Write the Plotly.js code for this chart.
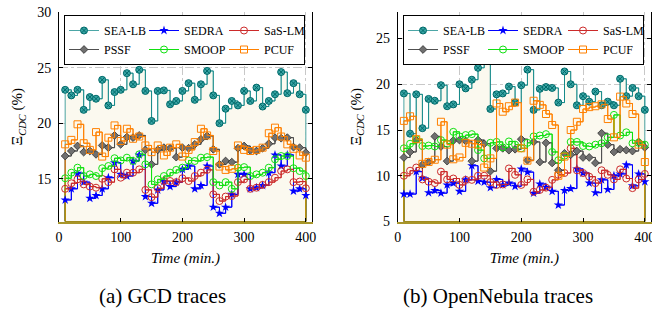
<!DOCTYPE html>
<html><head><meta charset="utf-8">
<script src="https://cdn.plot.ly/plotly-3.0.1.min.js"></script>
<style>html,body{margin:0;padding:0;background:#fff}#chart{width:652px;height:310px}</style>
</head><body><div id="chart"></div><script>
const time = [10,20,30,40,50,60,70,80,90,100,110,120,130,140,150,160,170,180,190,200,210,220,230,240,250,260,270,280,290,300,310,320,330,340,350,360,370,380,390,400];
const seriesNames = ['SEA-LB','SEDRA','SaS-LM','PSSF','SMOOP','PCUF'];

// (a) GCD traces
const gcdSeaLb = [23.0,22.5,23.0,21.2,22.35,22.2,23.9,21.6,22.8,23.0,24.5,23.5,24.8,22.9,20.2,22.9,22.95,21.7,22.0,22.9,23.6,22.1,23.5,24.7,22.5,20.0,21.3,22.0,21.6,22.9,22.0,23.2,21.5,22.0,22.6,24.6,22.7,23.6,22.6,21.2];
const gcdSedra = [13.1,14.1,15.5,14.7,13.25,13.5,14.1,15.1,16.45,15.4,15.25,16.6,17.15,13.4,12.8,14.0,14.75,14.3,14.7,15.85,16.15,14.1,14.4,16.15,12.45,11.9,12.45,13.6,15.4,15.4,14.1,14.2,14.4,15.55,17.15,16.15,17.15,13.9,14.1,13.5];
const gcdSasLm = [14.1,14.6,14.95,14.5,14.3,14.2,15.0,14.7,15.85,15.1,15.55,15.55,15.85,14.0,13.35,14.15,14.8,14.8,14.7,15.05,14.8,15.25,15.55,15.8,13.6,13.0,13.4,13.45,14.7,14.95,14.1,14.2,14.45,14.7,15.1,15.7,15.85,14.7,14.75,14.15];
const gcdPssf = [17.05,17.5,17.95,17.4,17.5,17.2,18.0,17.8,18.9,18.1,18.75,18.7,18.9,17.6,16.3,17.6,17.8,17.75,16.95,17.8,17.75,18.1,18.55,18.85,17.65,16.3,16.6,16.5,17.75,17.95,17.55,17.5,17.75,18.15,18.7,18.65,18.7,17.85,17.8,17.35];
const gcdSmoop = [15.05,15.55,16.0,15.25,15.4,15.25,15.95,16.15,16.85,16.65,16.9,16.6,17.2,16.3,14.5,14.95,15.25,15.55,15.8,16.0,16.65,16.6,16.9,16.95,14.7,14.4,14.7,14.1,16.0,16.05,15.25,15.4,15.55,16.0,16.75,17.05,17.05,15.95,15.7,15.25];
const gcdPcuf = [18.1,18.5,19.9,18.2,17.6,19.2,17.0,18.7,19.8,18.4,19.5,18.6,18.8,18.0,17.4,18.0,17.1,17.8,18.1,17.0,17.6,18.3,19.5,18.9,17.5,16.1,15.8,15.9,18.0,17.6,17.5,17.6,17.8,19.1,19.6,18.8,18.1,17.7,17.1,16.9];

// (b) OpenNebula traces
const oneSeaLb = [19.0,14.6,18.9,15.2,18.4,18.2,19.9,17.6,17.8,20.0,19.55,20.5,21.8,22.9,17.3,18.9,19.0,19.75,18.0,19.9,21.6,17.2,19.5,19.7,19.6,18.0,21.4,20.0,17.7,18.7,18.1,19.2,17.7,18.1,17.7,20.6,18.7,19.6,18.7,17.2];
const oneSedra = [8.0,8.0,10.45,9.75,8.15,8.4,8.1,9.0,9.2,8.3,9.55,11.1,9.4,9.3,8.7,9.6,9.0,9.2,8.85,10.75,10.4,8.1,9.1,8.75,8.3,6.8,8.4,8.6,10.75,10.3,9.2,8.15,9.55,8.5,10.0,10.2,11.2,8.9,10.2,9.35];
const oneSasLm = [10.0,10.55,10.9,9.6,9.35,9.2,10.45,9.6,9.7,9.0,9.55,9.55,10.0,10.0,9.3,9.0,9.05,10.8,10.1,9.0,9.6,8.25,8.45,8.7,9.55,10.1,10.3,13.0,10.6,10.3,9.9,9.2,10.6,10.1,9.6,10.7,9.7,8.65,9.6,10.2];
const onePssf = [12.0,12.6,13.9,11.2,11.5,14.3,13.2,11.6,13.85,13.9,13.8,11.6,13.9,13.5,10.5,13.0,13.0,12.8,12.9,14.0,11.7,13.7,11.5,13.6,11.4,10.6,12.45,12.3,12.7,12.0,12.0,11.4,14.65,13.4,12.6,12.9,12.8,12.7,13.7,13.1];
const oneSmoop = [13.0,13.5,14.0,13.25,13.3,13.2,13.9,13.5,14.8,14.3,14.45,14.55,12.8,11.9,13.6,13.7,13.1,13.75,13.4,13.0,13.6,14.3,14.4,14.55,12.6,11.7,12.2,13.7,13.7,13.25,13.2,13.4,13.55,14.2,16.65,14.4,14.75,13.55,13.6,13.4];
const onePcuf = [16.0,16.5,14.0,11.3,11.5,11.75,15.9,13.4,11.8,12.0,13.6,13.5,13.4,10.9,11.9,17.9,17.0,17.6,18.0,13.0,11.65,18.2,17.75,16.75,15.55,10.0,12.1,15.0,15.9,17.3,17.5,17.6,17.8,16.2,14.2,18.65,17.9,16.75,13.4,11.5];

const xTicks = [0,100,200,300,400];
const yTicksA = [15,20,25,30];
const yTicksB = [5,10,15,20,25];
const captions = ['(a) GCD traces','(b) OpenNebula traces'];

const styles = [
  {line:'rgba(0,128,128,0.7)', marker:{symbol:'circle-x', size:7, color:'#3aa5a5', line:{color:'#006a6a', width:1}}},
  {line:'#0000ff', marker:{symbol:'star', size:7, color:'#0000ff', line:{width:0}}},
  {line:'#cc2a2a', marker:{symbol:'circle-open', size:7, color:'#cc2a2a', line:{width:1}}},
  {line:'#505050', marker:{symbol:'diamond', size:6, color:'#707070', line:{color:'#303030', width:0.8}}},
  {line:'#11e011', marker:{symbol:'circle-open', size:7, color:'#11e011', line:{width:1}}},
  {line:'#ff8000', marker:{symbol:'square-open', size:7, color:'#ff8000', line:{width:1}}}
];
const fillColor = '#fbf9ef';
const serif = 'Liberation Serif';

const traces = [];
function addPanel(seriesList, xa, ya, legendId, prefix, yMin) {
  seriesList.forEach((vals, i) => {
    const st = styles[i];
    const n = time.length;
    traces.push({
      x: [time[0]].concat(time, [time[n-1], time[0]]),
      y: [yMin].concat(vals, [yMin, yMin]),
      xaxis: xa, yaxis: ya, mode: 'lines',
      line: {shape:'hv', color: st.line, width: 1},
      fill: i === 0 ? 'toself' : 'none', fillcolor: fillColor,
      showlegend: false, hoverinfo: 'skip'
    });
  });
  seriesList.forEach((vals, i) => {
    const st = styles[i];
    traces.push({
      x: time, y: vals, xaxis: xa, yaxis: ya,
      mode: 'lines+markers', name: seriesNames[i],
      line: {shape:'hv', color: st.line, width: 1},
      marker: st.marker,
      legend: legendId, legendgroup: prefix + (i % 3)
    });
  });
}
const yRangeA = [11.16, 30];
const yRangeB = [5, 27.9];
const xRange = [0, 410];
addPanel([gcdSeaLb,gcdSedra,gcdSasLm,gcdPssf,gcdSmoop,gcdPcuf], 'x', 'y', 'legend', 'a', yRangeA[0]);
addPanel([oneSeaLb,oneSedra,oneSasLm,onePssf,oneSmoop,onePcuf], 'x2', 'y2', 'legend2', 'b', yRangeB[0]);

const W = 652, H = 310;
function xAxis(domain, anchor) {
  return {domain, anchor, range: xRange, tickvals: xTicks, ticks:'inside', ticklen:4, tickcolor:'black',
    showline:true, linecolor:'#a8962a', linewidth:2, showgrid:true, gridcolor:'#c8c8c8', griddash:'dashdot',
    zeroline:false, tickfont: {family: serif, size: 14, color: 'black'}, ticklabelstandoff: 2,
    ticklabeloverflow: 'allow',
    title:{text:'<i>Time (min.)</i>', font:{family:serif, size:15, color:'black'}, standoff: 8}};
}
function xTopAxis(over, anchor) {
  return {overlaying: over, anchor, side:'top', range: xRange, tickvals: xTicks, ticks:'inside', ticklen:4,
    tickcolor:'black', showline:true, linecolor:'black', linewidth:1, showgrid:false, zeroline:false,
    showticklabels:false};
}
function yAxis(domain, anchor, range, ticks) {
  return {domain, anchor, range, tickvals: ticks, ticks:'inside', ticklen:4, tickcolor:'black',
    showline:true, mirror:'ticks', linecolor:'black', linewidth:1, showgrid:true, gridcolor:'#c8c8c8', griddash:'dashdot',
    zeroline:false, tickfont: {family: serif, size: 14, color: 'black'}, ticklabelstandoff: 4,
    title:{text:'\u039E<sub><i>CDC</i></sub> (%)', font:{family:serif, size:15, color:'black'}, standoff: 10}};
}
const yDom = [1 - 221.5/H, 1 - 12/H];
function legendCfg(xpx) {
  return {x: xpx/W, xanchor:'left', y: 1 - 15/H, yanchor:'top', orientation:'h', traceorder:'grouped',
    entrywidth: 35, entrywidthmode:'pixels', itemwidth: 30, tracegroupgap: 0,
    bgcolor:'white', bordercolor:'black', borderwidth:1,
    font:{family: serif, size: 12, color:'black'}};
}
const layout = {
  width: W, height: H, margin:{l:0, r:0, t:0, b:0}, paper_bgcolor:'white', plot_bgcolor:'white',
  font: {family: serif, color: 'black'},
  xaxis: xAxis([59/W, 312/W], 'y'),
  yaxis: yAxis(yDom, 'x', yRangeA, yTicksA),
  xaxis2: xAxis([397.7/W, 651/W], 'y2'),
  yaxis2: yAxis(yDom, 'x2', yRangeB, yTicksB),
  xaxis3: xTopAxis('x', 'y'),
  xaxis4: xTopAxis('x2', 'y2'),
  legend: legendCfg(64),
  legend2: legendCfg(403),
  annotations: [
    {xref:'paper', yref:'paper', x:162/W, y:1-296/H, xanchor:'center', yanchor:'middle', showarrow:false,
     text: captions[0], font:{family: serif, size: 21, color:'black'}},
    {xref:'paper', yref:'paper', x:498/W, y:1-296/H, xanchor:'center', yanchor:'middle', showarrow:false,
     text: captions[1], font:{family: serif, size: 21, color:'black'}}
  ],
  showlegend: true
};
Plotly.newPlot('chart', traces, layout, {displayModeBar:false, staticPlot:true});
</script></body></html>
